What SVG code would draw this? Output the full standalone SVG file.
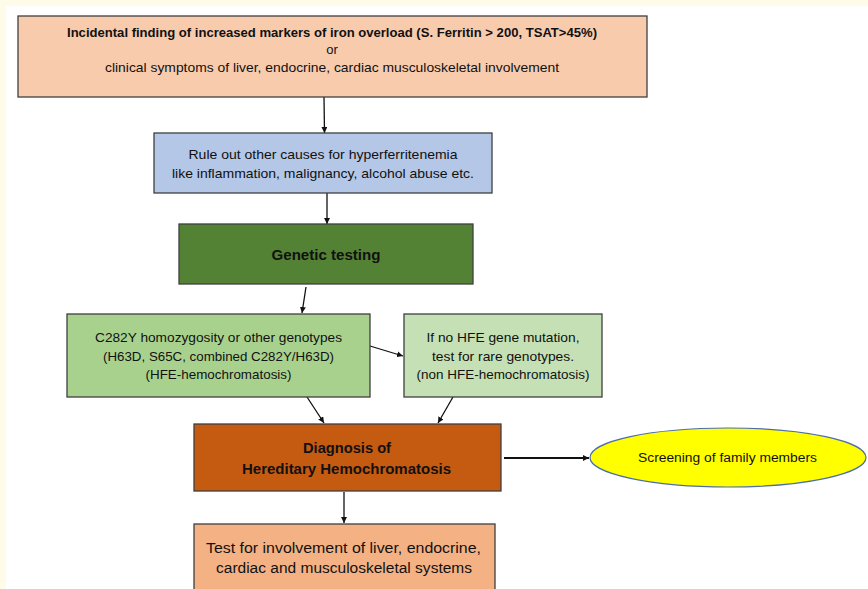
<svg xmlns="http://www.w3.org/2000/svg" width="868" height="589" viewBox="0 0 868 589">
<style>
.box{stroke:#3f3f3f;stroke-width:1.3}
text{font-family:"Liberation Sans",Arial,sans-serif;fill:#111;text-anchor:middle}
.t{font-size:13px}
.b{font-size:14px;font-weight:bold}
.c{stroke:#111;stroke-width:1.3;fill:none;marker-end:url(#ah)}
</style>
<defs>
<marker id="ah" viewBox="0 0 10 10" refX="10" refY="5" markerWidth="6" markerHeight="6" markerUnits="userSpaceOnUse" orient="auto">
<path d="M0,0 L10,5 L0,10 z" fill="#111"/>
</marker>
</defs>
<rect x="0" y="0" width="868" height="589" fill="#FFFBE9"/>
<rect x="6" y="6" width="862" height="583" fill="#FFFFFF"/>
<g id="connectors">
<line class="c" x1="324" y1="97" x2="324.5" y2="133"/>
<line class="c" x1="327" y1="193" x2="327" y2="224"/>
<line class="c" x1="306" y1="287" x2="302" y2="313"/>
<line class="c" x1="370" y1="346" x2="403" y2="356"/>
<line class="c" x1="307" y1="397" x2="324" y2="423"/>
<line class="c" x1="453" y1="397" x2="438" y2="423"/>
<line class="c" x1="504" y1="458" x2="589" y2="458" style="stroke-width:2"/>
<line class="c" x1="344" y1="492" x2="344" y2="523"/>
</g>
<g id="start">
<rect class="box" x="18" y="16" width="629" height="81" fill="#F8CBAD"/>
<text class="b" x="332" y="37" style="font-size:13px" textLength="530" lengthAdjust="spacingAndGlyphs">Incidental finding of increased markers of iron overload (S. Ferritin &gt; 200, TSAT&gt;45%)</text>
<text class="t" x="332" y="54">or</text>
<text class="t" x="332" y="72" textLength="454" lengthAdjust="spacingAndGlyphs">clinical symptoms of liver, endocrine, cardiac musculoskeletal involvement</text>
</g>
<g id="ruleout">
<rect class="box" x="154" y="133" width="338" height="60" fill="#B4C7E7"/>
<text class="t" x="323" y="159" textLength="269" lengthAdjust="spacingAndGlyphs">Rule out other causes for hyperferritenemia</text>
<text class="t" x="323" y="178" textLength="302" lengthAdjust="spacingAndGlyphs">like inflammation, malignancy, alcohol abuse etc.</text>
</g>
<g id="genetic">
<rect class="box" x="179" y="224" width="294" height="60" fill="#548235"/>
<text class="b" x="326" y="260" textLength="109" lengthAdjust="spacingAndGlyphs">Genetic testing</text>
</g>
<g id="hfe">
<rect class="box" x="67" y="314" width="303" height="83" fill="#A9D18E"/>
<text class="t" x="218.5" y="342" textLength="247" lengthAdjust="spacingAndGlyphs">C282Y homozygosity or other genotypes</text>
<text class="t" x="218.5" y="361" textLength="231" lengthAdjust="spacingAndGlyphs">(H63D, S65C, combined C282Y/H63D)</text>
<text class="t" x="218.5" y="379" textLength="146" lengthAdjust="spacingAndGlyphs">(HFE-hemochromatosis)</text>
</g>
<g id="nonhfe">
<rect class="box" x="404" y="314" width="198" height="83" fill="#C5E0B4"/>
<text class="t" x="503" y="342" textLength="153" lengthAdjust="spacingAndGlyphs">If no HFE gene mutation,</text>
<text class="t" x="503" y="361" textLength="142" lengthAdjust="spacingAndGlyphs">test for rare genotypes.</text>
<text class="t" x="503" y="379" textLength="173" lengthAdjust="spacingAndGlyphs">(non HFE-hemochromatosis)</text>
</g>
<g id="diagnosis">
<rect class="box" x="194" y="424" width="307" height="67" fill="#C55A11"/>
<text class="b" x="347" y="453" textLength="88" lengthAdjust="spacingAndGlyphs">Diagnosis of</text>
<text class="b" x="346.5" y="474" textLength="209" lengthAdjust="spacingAndGlyphs">Hereditary Hemochromatosis</text>
</g>
<g id="screening">
<ellipse cx="728" cy="457.5" rx="138" ry="29.5" fill="#FFFF00" stroke="#4C6EA8" stroke-width="1.2"/>
<text class="t" x="727.5" y="462" style="font-size:12px" textLength="179" lengthAdjust="spacingAndGlyphs">Screening of family members</text>
</g>
<g id="involvement">
<rect class="box" x="194" y="524" width="301" height="70" fill="#F4B183"/>
<text class="t" x="343.5" y="553" style="font-size:14px" textLength="275" lengthAdjust="spacingAndGlyphs">Test for involvement of liver, endocrine,</text>
<text class="t" x="344" y="573" style="font-size:14px" textLength="256" lengthAdjust="spacingAndGlyphs">cardiac and musculoskeletal systems</text>
</g>
</svg>
